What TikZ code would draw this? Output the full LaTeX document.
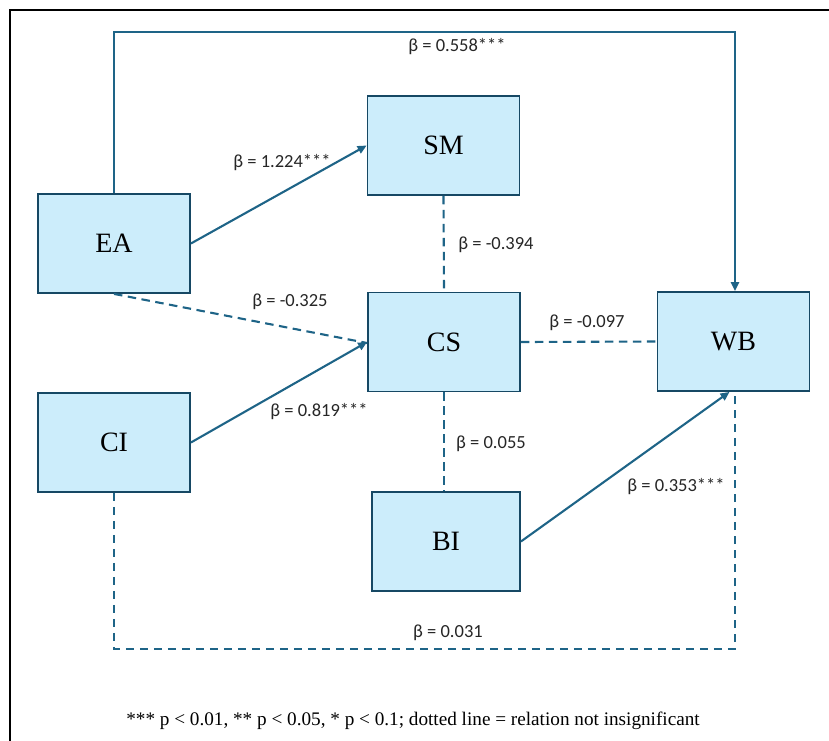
\documentclass[tikz,border=0pt]{standalone}
\usepackage{fontspec}
\setmainfont{Liberation Serif}
\newfontfamily\lblfont{Carlito}
\usetikzlibrary{arrows.meta}
\definecolor{boxfill}{RGB}{204,237,251}
\definecolor{boxline}{RGB}{22,72,100}
\definecolor{lnk}{RGB}{30,100,135}
\tikzset{
  var/.style={draw=boxline, fill=boxfill, line width=1.8pt, minimum width=152pt, minimum height=99pt, inner sep=0pt, font=\fontsize{28}{30}\selectfont},
  solidlink/.style={draw=lnk, line width=2.1pt, -{Triangle[length=9pt,width=8pt]}},
  dashlink/.style={draw=lnk, line width=2.1pt, dash pattern=on 8.5pt off 5.5pt},
  lbl/.style={font=\lblfont\fontsize{18.5}{20}\selectfont, text=black!85, inner sep=0pt},
}
\begin{document}
\begin{tikzpicture}[x=1pt,y=-1pt]
\useasboundingbox (0,0) rectangle (829,740);
\draw[black, line width=2.4pt] (10,742) -- (10,10) -- (831,10);

\node[var] (EA) at (114,243.5) {EA};
\node[var] (CI) at (114,442.5) {CI};
\node[var] (SM) at (443.5,145.5) {SM};
\node[var] (CS) at (444,342) {CS};
\node[var] (WB) at (733.5,341.5) {WB};
\node[var, minimum width=148pt] (BI) at (446,541.5) {BI};

\coordinate (tr) at (735,32);
\coordinate (br) at (735,649);

\draw[solidlink] (EA.north) |- (tr) -- (tr |- WB.north);
\draw[solidlink] (EA.east) -- (SM.west);
\draw[dashlink] (EA.south) -- ([yshift=-1pt]CS.west);
\draw[solidlink] (CI.east) -- (CS.west);
\draw[dashlink] (SM.south) -- (CS.north);
\draw[dashlink] (CS.east) -- (WB.west);
\draw[dashlink] (CS.south) -- (CS.south |- BI.north);
\draw[solidlink] (BI.east) -- ([xshift=-4pt]WB.south);
\draw[dashlink] (CI.south) |- (br) -- (br |- WB.south);

\node[lbl] (l1) at (457,47) {β = 0.558***};
\node[lbl] (l2) at (282,163) {β = 1.224***};
\node[lbl] (l3) at (496,245) {β = -0.394};
\node[lbl] (l4) at (290,302) {β = -0.325};
\node[lbl] (l5) at (587,323) {β = -0.097};
\node[lbl] (l6) at (319,412) {β = 0.819***};
\node[lbl] (l7) at (491,444) {β = 0.055};
\node[lbl] (l8) at (676,487) {β = 0.353***};
\node[lbl] (l9) at (448,633) {β = 0.031};

\node[font=\fontsize{19.2}{21}\selectfont, inner sep=0pt] (note) at (413,721) {*** p < 0.01, ** p < 0.05, * p < 0.1; dotted line = relation not insignificant};
\end{tikzpicture}
\end{document}
